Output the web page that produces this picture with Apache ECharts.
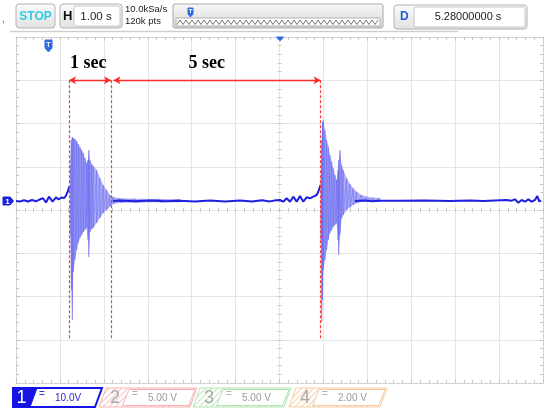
<!DOCTYPE html>
<html><head><meta charset="utf-8">
<script src="https://cdn.jsdelivr.net/npm/echarts@6/dist/echarts.min.js"></script>
<style>html,body{margin:0;padding:0;background:#fff}#c{width:550px;height:415px}</style>
</head><body><div id="c"></div>
<script>
// ---- data (time in s relative to trigger, volts) ----
const pre1Time = [-6.000,-5.909,-5.818,-5.727,-5.636,-5.545,-5.454,-5.385,-5.317,-5.249,-5.169,-5.089,-5.032,-4.964,-4.907,-4.862,-4.816,-4.782];
const pre1Volt = [2.08,1.97,2.24,1.97,2.31,2.01,2.47,2.71,1.73,3.08,1.92,2.94,2.43,2.89,2.77,3.35,4.39,5.55];
const midTime = [-3.791,-3.632,-3.291,-2.949,-2.607,-2.266,-1.924,-1.583,-1.241,-0.900,-0.627,-0.399,-0.217,-0.080,0.011,0.086,0.163,0.239,0.314,0.391,0.466,0.541,0.619,0.694,0.769,0.847,0.883,0.922,0.938];
const midVolt = [2.08,2.20,2.01,2.17,2.03,2.15,1.99,2.20,1.99,2.17,1.99,2.24,1.99,2.27,2.31,1.92,2.71,1.92,3.08,1.92,3.24,1.92,2.94,2.71,3.08,3.47,4.23,5.39,5.78];
const postTime = [1.719,1.946,2.106,2.288,2.743,3.312,3.882,4.337,4.640,4.906,5.173,5.287,5.362,5.437,5.514,5.589,5.664,5.742,5.817,5.869,5.915,5.947];
const postVolt = [2.08,2.20,2.03,2.15,2.13,2.20,2.08,2.20,2.08,2.20,2.31,2.15,2.47,1.69,2.31,1.92,2.47,1.92,2.31,3.24,1.92,2.31];

const burst1Time = [-4.764,-4.741,-4.718,-4.695,-4.657,-4.618,-4.582,-4.543,-4.504,-4.468,-4.429,-4.390,-4.361,-4.342,-4.315,-4.276,-4.240,-4.163,-4.087,-4.012,-3.935,-3.860,-3.785,-3.632,-3.291,-2.721,-2.266];
const burst1Top = [10.40,16.18,16.88,16.65,16.42,15.95,15.26,14.57,13.87,13.18,12.02,10.87,11.56,13.87,11.56,10.64,10.17,9.25,7.40,5.78,4.62,3.47,3.01,2.71,2.59,2.54,2.50];
const burst1Bottom = [-5.78,-18.50,-25.43,-14.34,-11.56,-9.25,-7.63,-6.47,-5.78,-5.09,-4.62,-4.16,-6.94,-10.87,-5.09,-4.39,-4.16,-3.01,-1.85,-0.69,0.00,0.76,1.39,1.69,1.73,1.78,1.80];

const burst2Time = [0.944,0.960,0.979,0.997,1.036,1.074,1.111,1.149,1.188,1.225,1.263,1.302,1.332,1.348,1.377,1.416,1.452,1.530,1.605,1.680,1.757,1.871,1.985,2.135,2.288];
const burst2Top = [8.09,16.18,20.35,20.81,18.50,16.18,14.64,12.72,11.17,9.64,8.09,6.94,9.25,11.56,13.87,10.40,9.25,7.33,6.01,5.02,4.23,3.47,3.08,2.84,2.77];
const burst2Bottom = [-6.94,-25.90,-20.81,-13.87,-11.56,-9.25,-6.94,-5.39,-4.62,-3.86,-3.47,-3.08,-6.94,-10.40,-5.78,-1.92,-1.16,0.00,0.62,1.16,1.55,1.85,2.01,1.90,1.95];

const cursorTimes = [-4.793,-3.837,0.935];
const spanStart = [-4.793,-3.780];
const spanEnd = [-3.837,0.935];
const spanLabels = ['1 sec','5 sec'];
const spanLabelTime = [-4.354,-1.658];
const arrowLevel = 30, cursorTop = 30, cursorBottom = -30, labelLevel = 33.8;

const headerTexts = {stop:'STOP', h:'H', timebase:'1.00 s', rate:'10.0kSa/s', pts:'120k pts', d:'D', delta:'5.28000000 s'};
const channelNames = ['1','2','3','4'];
const channelScales = ['10.0V','5.00 V','5.00 V','2.00 V'];

// ---- chart ----
const TRACE = '#1f1fe0';
const pair = (ts, vs) => ts.map((t,i)=>[t, vs[i]]);
function band(ts, tops, bots){
  return {type:'custom', xAxisIndex:0, yAxisIndex:0, silent:true, z:2, clip:true,
    data: ts.map((t,i)=>[t,tops[i],bots[i]]), encode:{x:0,y:[1,2]},
    renderItem(params, api){
      if (params.dataIndexInside !== 0) return null;
      const n = params.dataInsideLength, up=[], dn=[];
      for (let k=0;k<n;k++){ up.push(api.coord([api.value(0,k),api.value(1,k)])); dn.push(api.coord([api.value(0,k),api.value(2,k)])); }
      return {type:'polygon', shape:{points: up.concat(dn.reverse())}, style:{fill:'rgba(150,150,246,0.8)'}};
    }};
}
function zig(ts, tops, bots){
  const d=[]; ts.forEach((t,i)=>{ d.push([t,tops[i]]); d.push([t,bots[i]]); });
  return {type:'line', data:d, showSymbol:false, symbol:'none', silent:true, z:3,
    lineStyle:{color:'rgba(90,90,236,0.7)', width:0.6}, animation:false};
}
const gridC='#e6e6e6', edgeC='#d2d2d2', tickC='#c6c6c6';
const xb={type:'value',min:-6,max:6,interval:1,axisLabel:{show:false}};
const yb={type:'value',min:-40,max:40,interval:10,axisLabel:{show:false}};
function edge(base,pos,split){return Object.assign({},base,{position:pos,
  axisLine:{show:true,onZero:false,lineStyle:{color:edgeC,width:1}},
  axisTick:{show:true,inside:true,length:4,lineStyle:{color:tickC}},
  minorTick:{show:true,splitNumber:5,length:3,lineStyle:{color:tickC}},
  splitLine:{show:split,lineStyle:{color:gridC,width:1}}});}
function center(base,pos){return Object.assign({},base,{position:pos,
  axisLine:{show:true,onZero:true,onZeroAxisIndex:0,lineStyle:{color:gridC,width:1}},
  axisTick:{show:true,inside:false,length:2,lineStyle:{color:tickC}},
  minorTick:{show:true,splitNumber:5,length:2,lineStyle:{color:tickC}},
  splitLine:{show:false}});}

function hatch(color){const c=document.createElement('canvas');c.width=6;c.height=6;const g=c.getContext('2d');
  g.fillStyle='#fff';g.fillRect(0,0,6,6);g.strokeStyle=color;g.lineWidth=1.4;g.beginPath();
  g.moveTo(0,6);g.lineTo(6,0);g.moveTo(-3,3);g.lineTo(3,-3);g.moveTo(3,9);g.lineTo(9,3);g.stroke();return c;}

const F='Liberation Sans';
const graphics=[];
function rect(x,y,w,h,fill,stroke,r){graphics.push({type:'rect',shape:{x,y,width:w,height:h,r:r||0},style:{fill,stroke,lineWidth:1},z:10});}
function txt(x,y,t,o){graphics.push({type:'text',x,y,style:Object.assign({text:t,font:'12px '+F,fill:'#000',textAlign:'left',textVerticalAlign:'middle'},o),z:12});}
function poly(pts,fill,stroke,lw){graphics.push({type:'polygon',shape:{points:pts},style:{fill,stroke,lineWidth:lw||1},z:10});}
const grad=(a,b)=>new echarts.graphic.LinearGradient(0,0,0,1,[{offset:0,color:a},{offset:1,color:b}]);

// header
txt(2,19,',',{font:'10px '+F,fill:'#3b6fe0'});
rect(16,4,39,24,grad('#fbfbfb','#e2e2e2'),'#b2b2b2',3);
txt(35.5,16.5,headerTexts.stop,{font:'bold 12px '+F,fill:'#33c8e2',textAlign:'center'});
rect(60,4,62,24,grad('#fbfbfb','#e2e2e2'),'#b2b2b2',3);
rect(74,6,46,20,'#ffffff','#c8c8c8',2);
txt(63,16.5,headerTexts.h,{font:'bold 13px '+F,fill:'#111'});
txt(96,16.5,headerTexts.timebase,{font:'11.5px '+F,fill:'#222',textAlign:'center'});
txt(125,9,headerTexts.rate,{font:'9.5px '+F,fill:'#222'});
txt(125,21.5,headerTexts.pts,{font:'9.5px '+F,fill:'#222'});
rect(173,4,210,24,grad('#f7f7f7','#d9d9d9'),'#a8a8a8',2);
rect(176,18,204,8,'#ffffff','#b0b0b0',0);
(function(){const p=[];for(let x=177,k=0;x<=379;x+=3,k++)p.push([x,k%2?20:24.5]);graphics.push({type:'polyline',shape:{points:p},style:{stroke:'#555',lineWidth:0.8,fill:null},z:11});})();
poly([[188,8],[193,8],[193,14],[190.5,17],[188,14]],'#2d6be0','#2d6be0');
txt(190.5,11,'T',{font:'bold 6px '+F,fill:'#fff',textAlign:'center'});
graphics.push({type:'line',shape:{x1:10,y1:31.5,x2:458,y2:31.5},style:{stroke:'#cfcfcf',lineWidth:1.5},z:10});
rect(394,5,133,24,grad('#fbfbfb','#e2e2e2'),'#b2b2b2',3);
rect(414,7,111,20,'#ffffff','#c8c8c8',2);
txt(400,17,headerTexts.d,{font:'bold 12px '+F,fill:'#1a5fd6'});
txt(468,17,headerTexts.delta,{font:'11px '+F,fill:'#222',textAlign:'center'});

// markers in plot
poly([[45,40],[52,40],[52,48],[48.5,52],[45,48]],'#2d6be0','#2d6be0');
txt(48.5,45.5,'T',{font:'bold 7px '+F,fill:'#fff',textAlign:'center'});
poly([[276.5,37],[283.5,37],[280,41]],'#2d6be0','#2d6be0');
poly([[3,197],[10,197],[13.5,201],[10,205],[3,205]],'#1f1fe0','#1f1fe0');
txt(7.5,201.5,'1',{font:'bold 8px '+F,fill:'#fff',textAlign:'center'});

// channel tabs
const ty0=388, ty1=407, sl=7;
poly([[13,ty0],[102,ty0],[102-sl,ty1],[13,ty1]],'#ffffff','#1515e6',2);
poly([[13,ty0],[37,ty0],[37-sl,ty1],[13,ty1]],'#1515e6','#1515e6',1);
txt(21.5,398,channelNames[0],{font:'18px '+F,fill:'#fff',textAlign:'center'});
txt(42,394.5,'=',{font:'10px '+F,fill:'#3535d8',textAlign:'center'});
txt(55,398.5,channelScales[0],{font:'10px '+F,fill:'#2a2ad8'});
const tabs=[{x:106,c:'#f6b4b4',h:'#f9cfcf',n:'#a8a8a8'},{x:200,c:'#b4e4b4',h:'#cdeccd',n:'#a8a8a8'},{x:296,c:'#f6cda4',h:'#f8dcc0',n:'#a8a8a8'}];
tabs.forEach((t,i)=>{
  const pat={image:hatch(t.h),repeat:'repeat'};
  poly([[t.x,ty0],[t.x+91,ty0],[t.x+91-sl,ty1],[t.x-sl,ty1]],pat,t.c,1);
  poly([[t.x+23,ty0+1.5],[t.x+89,ty0+1.5],[t.x+89-sl+0.6,ty1-1.5],[t.x+23-sl+0.6,ty1-1.5]],'#ffffff',t.c,1);
  txt(t.x+9,398,channelNames[i+1],{font:'18px '+F,fill:t.n,textAlign:'center'});
  txt(t.x+29,394.5,'=',{font:'10px '+F,fill:'#b0b0b0',textAlign:'center'});
  txt(t.x+42,398.5,channelScales[i+1],{font:'10px '+F,fill:'#9a9a9a'});
});

const chart = echarts.init(document.getElementById('c'), null, {renderer:'canvas', width:550, height:415});
chart.setOption({
  animation:false, backgroundColor:'#ffffff',
  grid:{left:16,top:37,right:7,bottom:32,containLabel:false},
  xAxis:[edge(xb,'bottom',true),edge(xb,'top',false),center(xb,'bottom'),center(xb,'top')],
  yAxis:[edge(yb,'left',true),edge(yb,'right',false),center(yb,'left'),center(yb,'right')],
  graphic:{elements:graphics},
  series:[
    band(burst1Time,burst1Top,burst1Bottom),
    band(burst2Time,burst2Top,burst2Bottom),
    zig(burst1Time,burst1Top,burst1Bottom),
    zig(burst2Time,burst2Top,burst2Bottom),
    {type:'line',data:pair(pre1Time,pre1Volt),showSymbol:false,symbol:'none',z:4,lineStyle:{color:TRACE,width:2}},
    {type:'line',data:pair(postTime,postVolt),showSymbol:false,symbol:'none',z:4,lineStyle:{color:TRACE,width:2}},
    {type:'line',data:pair(midTime,midVolt),showSymbol:false,symbol:'none',z:4,lineStyle:{color:TRACE,width:2},
      markLine:{silent:true,symbol:['none','none'],animation:false,label:{show:false},
        lineStyle:{color:'#ff3a3a',type:[3,2],width:1.2},
        data:cursorTimes.map(t=>[{coord:[t,cursorTop]},{coord:[t,cursorBottom]}]).concat(
          spanStart.map((s,i)=>[{coord:[s,arrowLevel],symbol:'arrow',symbolSize:[6,7],lineStyle:{type:'solid',width:1.4,color:'#ff2a2a'}},{coord:[spanEnd[i],arrowLevel],symbol:'arrow',symbolSize:[6,7]}]))},
      markPoint:{silent:true,symbol:'circle',symbolSize:1,itemStyle:{color:'rgba(0,0,0,0)'},
        label:{show:true,position:'inside',formatter:p=>p.name,color:'#000',fontFamily:'Liberation Serif',fontWeight:'bold',fontSize:18},
        data:spanLabels.map((n,i)=>({name:n,coord:[spanLabelTime[i],labelLevel]}))}}
  ]
});
</script></body></html>
